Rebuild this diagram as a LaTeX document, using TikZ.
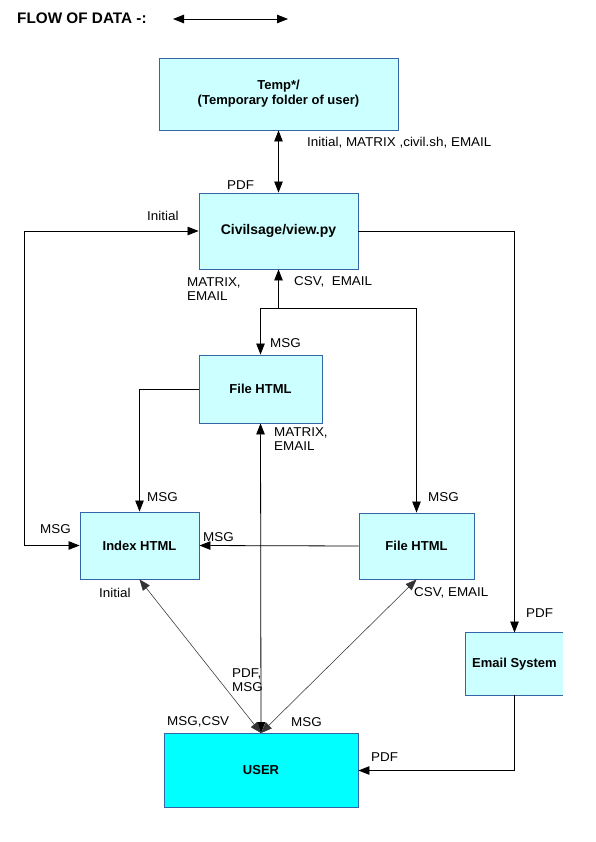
\documentclass[tikz,border=0pt]{standalone}
\usepackage{fontspec}
\setmainfont{Liberation Sans}
\newfontfamily\lblfont[FakeStretch=1.05]{Liberation Sans}
\usetikzlibrary{arrows.meta}
\definecolor{boxfill}{HTML}{CCFFFF}
\definecolor{boxline}{HTML}{3465A4}
\definecolor{userfill}{HTML}{00FFFF}
\definecolor{thinline}{HTML}{333333}
\begin{document}
\begin{tikzpicture}[x=1pt,y=-1pt,
  >={Triangle[length=11pt,width=8.5pt]},
  box/.style={draw=boxline, line width=0.9pt, fill=boxfill, inner sep=0pt,
    font=\fontsize{13}{15}\selectfont\bfseries, align=center},
  lbl/.style={anchor=west, inner sep=0pt, font=\lblfont\fontsize{12.8}{14}\selectfont, align=left},
  flow/.style={draw=black, line width=0.8pt},
  diag/.style={draw=thinline, line width=0.55pt}
]
\fill[white] (0,0) rectangle (595,842);
\useasboundingbox (0,0) rectangle (595,842);

% title
\node[anchor=west, inner sep=0pt, font=\fontsize{15.3}{17}\selectfont\bfseries] (title) at (17,18) {FLOW OF DATA -:};
\coordinate (ta) at (173,19);
\coordinate (tb) at (288,19);
\draw[flow,<->] (ta) -- (tb);

% boxes
\node[box, minimum width=239pt, minimum height=72pt] (temp) at (278.5,94) {Temp*/\\(Temporary folder of user)};
\node[box, minimum width=159pt, minimum height=76pt, font=\fontsize{14}{16}\selectfont\bfseries] (civ) at (278.5,231) {Civilsage/view.py};
\node[box, minimum width=123pt, minimum height=68pt] (fileA) at (260.5,389) {File HTML};
\node[box, minimum width=119pt, minimum height=67pt] (index) at (139.5,545.5) {Index HTML};
\node[box, minimum width=115pt, minimum height=66pt] (fileB) at (416.5,546) {File HTML};
\node[box, draw=none, minimum width=97pt, minimum height=62pt] (email) at (514.5,664) {Email System};
\draw[boxline, line width=0.9pt] (email.north east) -- (email.north west) -- (email.south west) -- (email.south east);
\node[box, fill=userfill, minimum width=194pt, minimum height=74pt] (user) at (261,770.5) {USER};

% connectors
\draw[flow,<->] (temp.south) -- (civ.north);
\coordinate (cl) at (24,231);
\draw[flow,<->] (index.west) -| (cl) -- (civ.west);
\draw[flow,->] (civ.east) -| (email.north);
\draw[flow,->] (email.south) |- (user.east);
\coordinate (jct) at (278.5,308);
\draw[flow,->] (jct) -- (civ.south);
\draw[flow,->] (jct) -| (fileA.north);
\draw[flow,->] (jct) -| (fileB.north);
\draw[flow,->] (fileA.west) -| (index.north);
\draw[flow,->] (fileB.west) -- (index.east);
\draw[flow,<->] (user.north) -- (fileA.south);
\draw[diag,<->] (index.south) -- (user.north);
\draw[diag,<->] (fileB.south) -- (user.north);

% labels
\node[lbl] (l1) at (307,143) {Initial, MATRIX ,civil.sh, EMAIL};
\node[lbl] (l2) at (227,185) {PDF};
\node[lbl] (l3) at (147,216) {Initial};
\node[lbl] (l4) at (187,289) {MATRIX,\\EMAIL};
\node[lbl] (l5) at (294,282) {CSV,\ \ EMAIL};
\node[lbl] (l6) at (270,343) {MSG};
\node[lbl] (l7) at (274,439.5) {MATRIX,\\EMAIL};
\node[lbl] (l8) at (147,497) {MSG};
\node[lbl] (l9) at (428,497) {MSG};
\node[lbl] (l10) at (40,529) {MSG};
\node[lbl] (l11) at (203,537) {MSG};
\node[lbl] (l12) at (99,593) {Initial};
\node[lbl] (l13) at (414,593) {CSV, EMAIL};
\node[lbl] (l14) at (526,613) {PDF};
\node[lbl] (l15) at (232,680) {PDF,\\MSG};
\node[lbl] (l16) at (167,722) {MSG,CSV};
\node[lbl] (l17) at (291,722) {MSG};
\node[lbl] (l18) at (371,757) {PDF};
\end{tikzpicture}
\end{document}
